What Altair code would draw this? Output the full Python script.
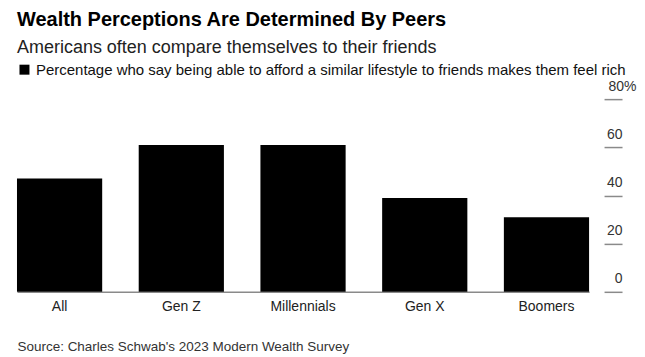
import altair as alt
import pandas as pd

categories = ["All", "Gen Z", "Millennials", "Gen X", "Boomers"]
values = [47, 61, 61, 39, 31]
series_name = "Percentage who say being able to afford a similar lifestyle to friends makes them feel rich"
y_ticks = [0, 20, 40, 60, 80]

df = pd.DataFrame({"group": categories, "pct": values, "series": [series_name] * len(categories)})

FONT = "Liberation Sans"

chart = alt.Chart(df).mark_bar(color="#000000").encode(
    x=alt.X(
        "group:N",
        sort=categories,
        scale=alt.Scale(range=[0, 573], paddingInner=0.3, paddingOuter=0),
        axis=alt.Axis(
            title="Source: Charles Schwab's 2023 Modern Wealth Survey",
            titleAnchor="start",
            titleAlign="left",
            titleFont=FONT,
            titleFontSize=13.5,
            titleFontWeight="normal",
            titleColor="#333333",
            titlePadding=26,
            labelAngle=0,
            labelFont=FONT,
            labelFontSize=14,
            labelColor="#222222",
            labelPadding=8,
            ticks=False,
            domainColor="#8a8a8a",
            domainWidth=1.5,
        ),
    ),
    y=alt.Y(
        "pct:Q",
        scale=alt.Scale(domain=[0, 80], nice=False),
        axis=alt.Axis(
            title=None,
            orient="right",
            values=y_ticks,
            offset=-18,
            tickSize=18,
            tickColor="#8a8a8a",
            tickWidth=1.5,
            domain=False,
            grid=False,
            labelFont=FONT,
            labelFontSize=14,
            labelColor="#333333",
            labelPadding=0,
            labelBaseline="alphabetic",
            labelOffset=-9,
            labelAlign={"condition": {"test": "datum.value == 80", "value": "center"}, "value": "right"},
            labelExpr="datum.value == 80 ? '80%' : datum.label",
        ),
    ),
    color=alt.Color(
        "series:N",
        scale=alt.Scale(range=["#000000"]),
        legend=alt.Legend(
            title=None,
            orient="top",
            symbolType="square",
            symbolSize=100,
            symbolStrokeWidth=0,
            labelFont=FONT,
            labelFontSize=15,
            labelColor="#111111",
            labelLimit=0,
            padding=0,
            offset=21,
        ),
    ),
).properties(
    width=606,
    height=193,
    title=alt.TitleParams(
        text="Wealth Perceptions Are Determined By Peers",
        subtitle="Americans often compare themselves to their friends",
        anchor="start",
        font=FONT,
        fontSize=20,
        fontWeight="bold",
        color="#000000",
        subtitleFont=FONT,
        subtitleFontSize=18,
        subtitleColor="#222222",
        subtitlePadding=9,
        offset=5,
    ),
    padding={"left": 9, "top": 2, "right": 0, "bottom": 0},
).configure_view(stroke=None)

chart.save("out.html", embed_options={"renderer": "svg", "actions": False})
